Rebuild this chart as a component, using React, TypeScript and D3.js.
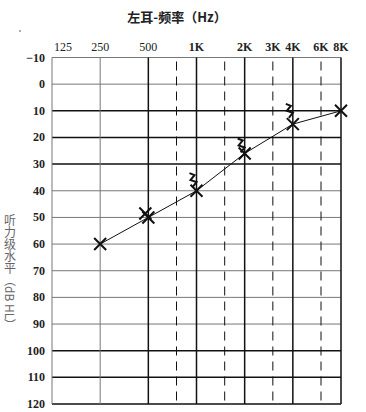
import React from 'react';
import * as d3 from 'd3';

// 气导（左耳）阈值
const airFreqs = [250, 500, 1000, 2000, 4000, 8000];
const airValues = [60, 50, 40, 26, 15, 10];

// 骨导
const boneFreqs = [500, 1000, 2000, 4000];
const boneValues = [48.5, 36, 23, 10];
const boneMarks = ['x', 'z', 'z', 'z'];

const freqTicks = [125, 250, 500, 1000, 2000, 3000, 4000, 6000, 8000];
const freqLabels = ['125', '250', '500', '1K', '2K', '3K', '4K', '6K', '8K'];
const boldLabels = [false, false, false, true, true, true, true, true, true];
const halfOctaves = [750, 1500, 3000, 6000];
const solidFreqs = [125, 250, 500, 1000, 2000, 4000, 8000];
const darkFreqs = [500, 1000, 2000, 4000, 8000];

const dbTicks = [-10, 0, 10, 20, 30, 40, 50, 60, 70, 80, 90, 100, 110, 120];
const darkDb = [10, 20, 30, 100, 110, 120];

const W = 366;
const H = 412;

export default function App() {
  const x = d3.scaleLog().base(2).domain([125, 8000]).range([52, 341]);
  const y = d3.scaleLinear().domain([-10, 120]).range([57.5, 404]);

  const line = d3
    .line<number>()
    .x((_, i) => x(airFreqs[i]))
    .y((d) => y(d));

  const numFont = '"Liberation Serif", serif';

  const cross = (cx: number, cy: number) =>
    `M${cx - 6},${cy - 6}L${cx + 6},${cy + 6}M${cx - 6},${cy + 6}L${cx + 6},${cy - 6}`;

  return (
    <svg
      width={W}
      height={H}
      style={{ position: 'absolute', left: 0, top: 0, background: '#fff' }}
    >
      <rect width={W} height={H} fill="#fff" />
      <text
        x={177}
        y={22}
        textAnchor="middle"
        fontSize={13}
        fontWeight="bold"
        fontFamily='"Noto Sans CJK SC", sans-serif'
        fill="#222"
      >
        左耳-频率（Hz）
      </text>
      <circle cx={20} cy={31} r={0.8} fill="#444" />

      {/* horizontal grid */}
      {dbTicks.map((d) => {
        const dark = darkDb.includes(d);
        return (
          <line
            key={'h' + d}
            x1={x(125)}
            x2={x(8000)}
            y1={y(d)}
            y2={y(d)}
            stroke={dark ? '#111' : '#777'}
            strokeWidth={dark ? 1.5 : 1}
          />
        );
      })}

      {/* vertical grid */}
      {solidFreqs.map((f) => {
        const dark = darkFreqs.includes(f);
        return (
          <line
            key={'v' + f}
            x1={x(f)}
            x2={x(f)}
            y1={y(-10)}
            y2={y(120)}
            stroke={dark ? '#111' : '#777'}
            strokeWidth={dark ? 1.5 : 1}
          />
        );
      })}
      {halfOctaves.map((f) => (
        <line
          key={'d' + f}
          x1={x(f)}
          x2={x(f)}
          y1={y(-10) + 4}
          y2={y(120)}
          stroke="#111"
          strokeWidth={1}
          strokeDasharray="9,6"
        />
      ))}

      {/* frequency labels */}
      {freqTicks.map((f, i) => (
        <text
          key={'fl' + f}
          x={i === 0 ? 63 : x(f)}
          y={51}
          textAnchor="middle"
          fontSize={12}
          fontWeight={boldLabels[i] ? 'bold' : 'normal'}
          fontFamily={numFont}
          fill="#222"
        >
          {freqLabels[i]}
        </text>
      ))}

      {/* dB labels */}
      {dbTicks.map((d) => (
        <text
          key={'yl' + d}
          x={45}
          y={y(d) + 4}
          textAnchor="end"
          fontSize={12}
          fontWeight="bold"
          fontFamily={numFont}
          fill="#222"
        >
          {d === -10 ? '−10' : d}
        </text>
      ))}

      <text
        x={10}
        y={214}
        fontSize={12}
        fontFamily='"Noto Sans CJK SC", sans-serif'
        fill="#666"
        style={{ writingMode: 'vertical-rl' }}
      >
        听力级水平（dB HL）
      </text>

      {/* air conduction line */}
      <path d={line(airValues) || ''} fill="none" stroke="#111" strokeWidth={1} />
      {airFreqs.map((f, i) => (
        <path
          key={'m' + f}
          d={cross(x(f), y(airValues[i]))}
          stroke="#111"
          strokeWidth={2}
        />
      ))}

      {/* bone conduction marks */}
      {boneFreqs.map((f, i) => {
        const cy = y(boneValues[i]);
        const cx = x(f) - 3;
        if (boneMarks[i] === 'x') {
          return <path key={'b' + f} d={cross(cx, cy)} stroke="#111" strokeWidth={2} />;
        }
        return (
          <path
            key={'b' + f}
            d={`M${cx - 4},${cy - 7}L${cx + 1},${cy - 5}L${cx - 3},${cy}L${cx + 3},${cy + 2}L${cx - 1},${cy + 7}`}
            fill="none"
            stroke="#111"
            strokeWidth={2}
          />
        );
      })}
    </svg>
  );
}
